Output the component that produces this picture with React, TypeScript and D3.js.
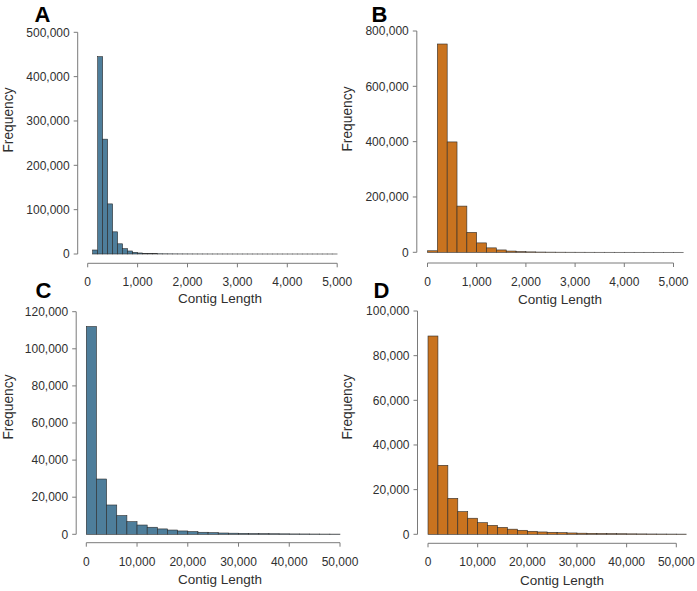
import React from "react";
import * as d3 from "d3";

// ---------- DATA ----------
// Panel A: bins of 100 from 0 to 5,000
const countsA = [0, 9000, 445000, 259000, 113000, 50000, 23000, 12000, 6800, 3800, 2300, 1500, 1000, 700, 500, 380, 300, 230, 180, 150, 120, 100, 85, 70, 60, 50, 45, 40, 35, 30, 27, 24, 21, 19, 17, 15, 13, 12, 11, 10, 9, 8, 7, 7, 6, 6, 5, 5, 4, 4];
const binA = 100;
// Panel B: bins of 200 from 0 to 5,200
const countsB = [5500, 753000, 399000, 167000, 72000, 34000, 16000, 8500, 4500, 2500, 1500, 900, 600, 400, 280, 200, 150, 110, 85, 65, 50, 40, 32, 25, 20, 16];
const binB = 200;
// Panel C: bins of 2,000 from 0 to 50,000
const countsC = [112000, 29800, 15800, 10100, 6800, 5000, 3800, 2900, 2300, 1800, 1450, 1100, 900, 700, 600, 500, 400, 350, 300, 250, 200, 180, 150, 120, 100];
const binC = 2000;
// Panel D: bins of 2,000 from 0 to 52,000
const countsD = [88800, 30900, 16100, 10150, 7200, 5200, 4000, 3100, 2300, 1800, 1350, 1050, 900, 750, 600, 500, 420, 350, 300, 250, 200, 170, 140, 120, 100, 80];
const binD = 2000;

const xTicksSmall = [0, 1000, 2000, 3000, 4000, 5000];
const xTicksLarge = [0, 10000, 20000, 30000, 40000, 50000];
const yTicksA = [0, 100000, 200000, 300000, 400000, 500000];
const yTicksB = [0, 200000, 400000, 600000, 800000];
const yTicksC = [0, 20000, 40000, 60000, 80000, 100000, 120000];
const yTicksD = [0, 20000, 40000, 60000, 80000, 100000];

const panelLetters = ["A", "B", "C", "D"];
const xTitle = "Contig Length";
const yTitle = "Frequency";

// ---------- STYLE / LAYOUT ----------
const BLUE = "#4e7e9b";
const ORANGE = "#c9731f";
const FONT = "'Liberation Sans', Arial, Helvetica, sans-serif";
const AXIS = "#7a7a7a";
const TXT = "#2f2f2f";

type Panel = {
  letter: string;
  counts: number[];
  bin: number;
  fill: string;
  xTicks: number[];
  yTicks: number[];
  xr: [number, number];
  yr: [number, number];
  yAxisX: number;
  xAxisY: number;
  xLab: [number, number];
  yLab: [number, number];
  letterPos: [number, number];
};

const panels: Panel[] = [
  {
    letter: panelLetters[0], counts: countsA, bin: binA, fill: BLUE,
    xTicks: xTicksSmall, yTicks: yTicksA,
    xr: [87.7, 337.2], yr: [254, 32.3], yAxisX: 77.7, xAxisY: 263.3,
    xLab: [220, 303], yLab: [13, 120], letterPos: [34.5, 21.5],
  },
  {
    letter: panelLetters[1], counts: countsB, bin: binB, fill: ORANGE,
    xTicks: xTicksSmall, yTicks: yTicksB,
    xr: [427.5, 673.5], yr: [252.3, 31], yAxisX: 416.8, xAxisY: 263,
    xLab: [560, 304], yLab: [351.5, 119], letterPos: [371.5, 21.5],
  },
  {
    letter: panelLetters[2], counts: countsC, bin: binC, fill: BLUE,
    xTicks: xTicksLarge, yTicks: yTicksC,
    xr: [86.3, 340], yr: [534.3, 311.7], yAxisX: 76.2, xAxisY: 542.7,
    xLab: [220, 584], yLab: [13, 407], letterPos: [35.5, 298],
  },
  {
    letter: panelLetters[3], counts: countsD, bin: binD, fill: ORANGE,
    xTicks: xTicksLarge, yTicks: yTicksD,
    xr: [428, 676.3], yr: [534.3, 311], yAxisX: 417.5, xAxisY: 543.3,
    xLab: [562, 584.5], yLab: [351.5, 407], letterPos: [373.5, 298],
  },
];

const fmt = d3.format(",");

function HistPanel({ p }: { p: Panel }) {
  const xMaxTick = p.xTicks[p.xTicks.length - 1];
  const yMaxTick = p.yTicks[p.yTicks.length - 1];
  const x = d3.scaleLinear().domain([0, xMaxTick]).range(p.xr);
  const y = d3.scaleLinear().domain([0, yMaxTick]).range(p.yr);
  const y0 = y(0);
  return (
    <g>
      {/* bars */}
      {p.counts.map((c, i) => {
        const xa = x(i * p.bin);
        const xb = x((i + 1) * p.bin);
        const yt = y(c);
        return (
          <rect
            key={i}
            x={xa}
            y={yt}
            width={xb - xa}
            height={Math.max(0, y0 - yt)}
            fill={p.fill}
            stroke="#2b2b2b"
            strokeWidth={0.6}
          />
        );
      })}
      {/* y axis */}
      <line x1={p.yAxisX} x2={p.yAxisX} y1={y(0)} y2={y(yMaxTick)} stroke={AXIS} strokeWidth={1} />
      {p.yTicks.map((t) => (
        <g key={"y" + t}>
          <line x1={p.yAxisX - 4} x2={p.yAxisX} y1={y(t)} y2={y(t)} stroke={AXIS} strokeWidth={1} />
          <text x={p.yAxisX - 8} y={y(t) + 4.2} textAnchor="end" fontSize={12} fill={TXT} fontFamily={FONT}>
            {fmt(t)}
          </text>
        </g>
      ))}
      {/* x axis */}
      <line x1={x(0)} x2={x(xMaxTick)} y1={p.xAxisY} y2={p.xAxisY} stroke={AXIS} strokeWidth={1} />
      {p.xTicks.map((t) => (
        <g key={"x" + t}>
          <line x1={x(t)} x2={x(t)} y1={p.xAxisY} y2={p.xAxisY + 4} stroke={AXIS} strokeWidth={1} />
          <text x={x(t)} y={p.xAxisY + 23} textAnchor="middle" fontSize={12} fill={TXT} fontFamily={FONT}>
            {fmt(t)}
          </text>
        </g>
      ))}
      {/* titles */}
      <text x={p.xLab[0]} y={p.xLab[1]} textAnchor="middle" fontSize={13.5} fill={TXT} fontFamily={FONT}>
        {xTitle}
      </text>
      <text
        transform={`translate(${p.yLab[0]},${p.yLab[1]}) rotate(-90)`}
        textAnchor="middle"
        fontSize={13.8}
        fill={TXT}
        fontFamily={FONT}
      >
        {yTitle}
      </text>
      <text x={p.letterPos[0]} y={p.letterPos[1]} fontSize={22} fontWeight="bold" fill="#000" fontFamily={FONT}>
        {p.letter}
      </text>
    </g>
  );
}

export default function App() {
  return (
    <svg
      width={697}
      height={591}
      viewBox="0 0 697 591"
      style={{ position: "absolute", left: 0, top: 0, background: "#fff" }}
    >
      <rect x={0} y={0} width={697} height={591} fill="#fff" />
      {panels.map((p) => (
        <HistPanel key={p.letter} p={p} />
      ))}
    </svg>
  );
}
